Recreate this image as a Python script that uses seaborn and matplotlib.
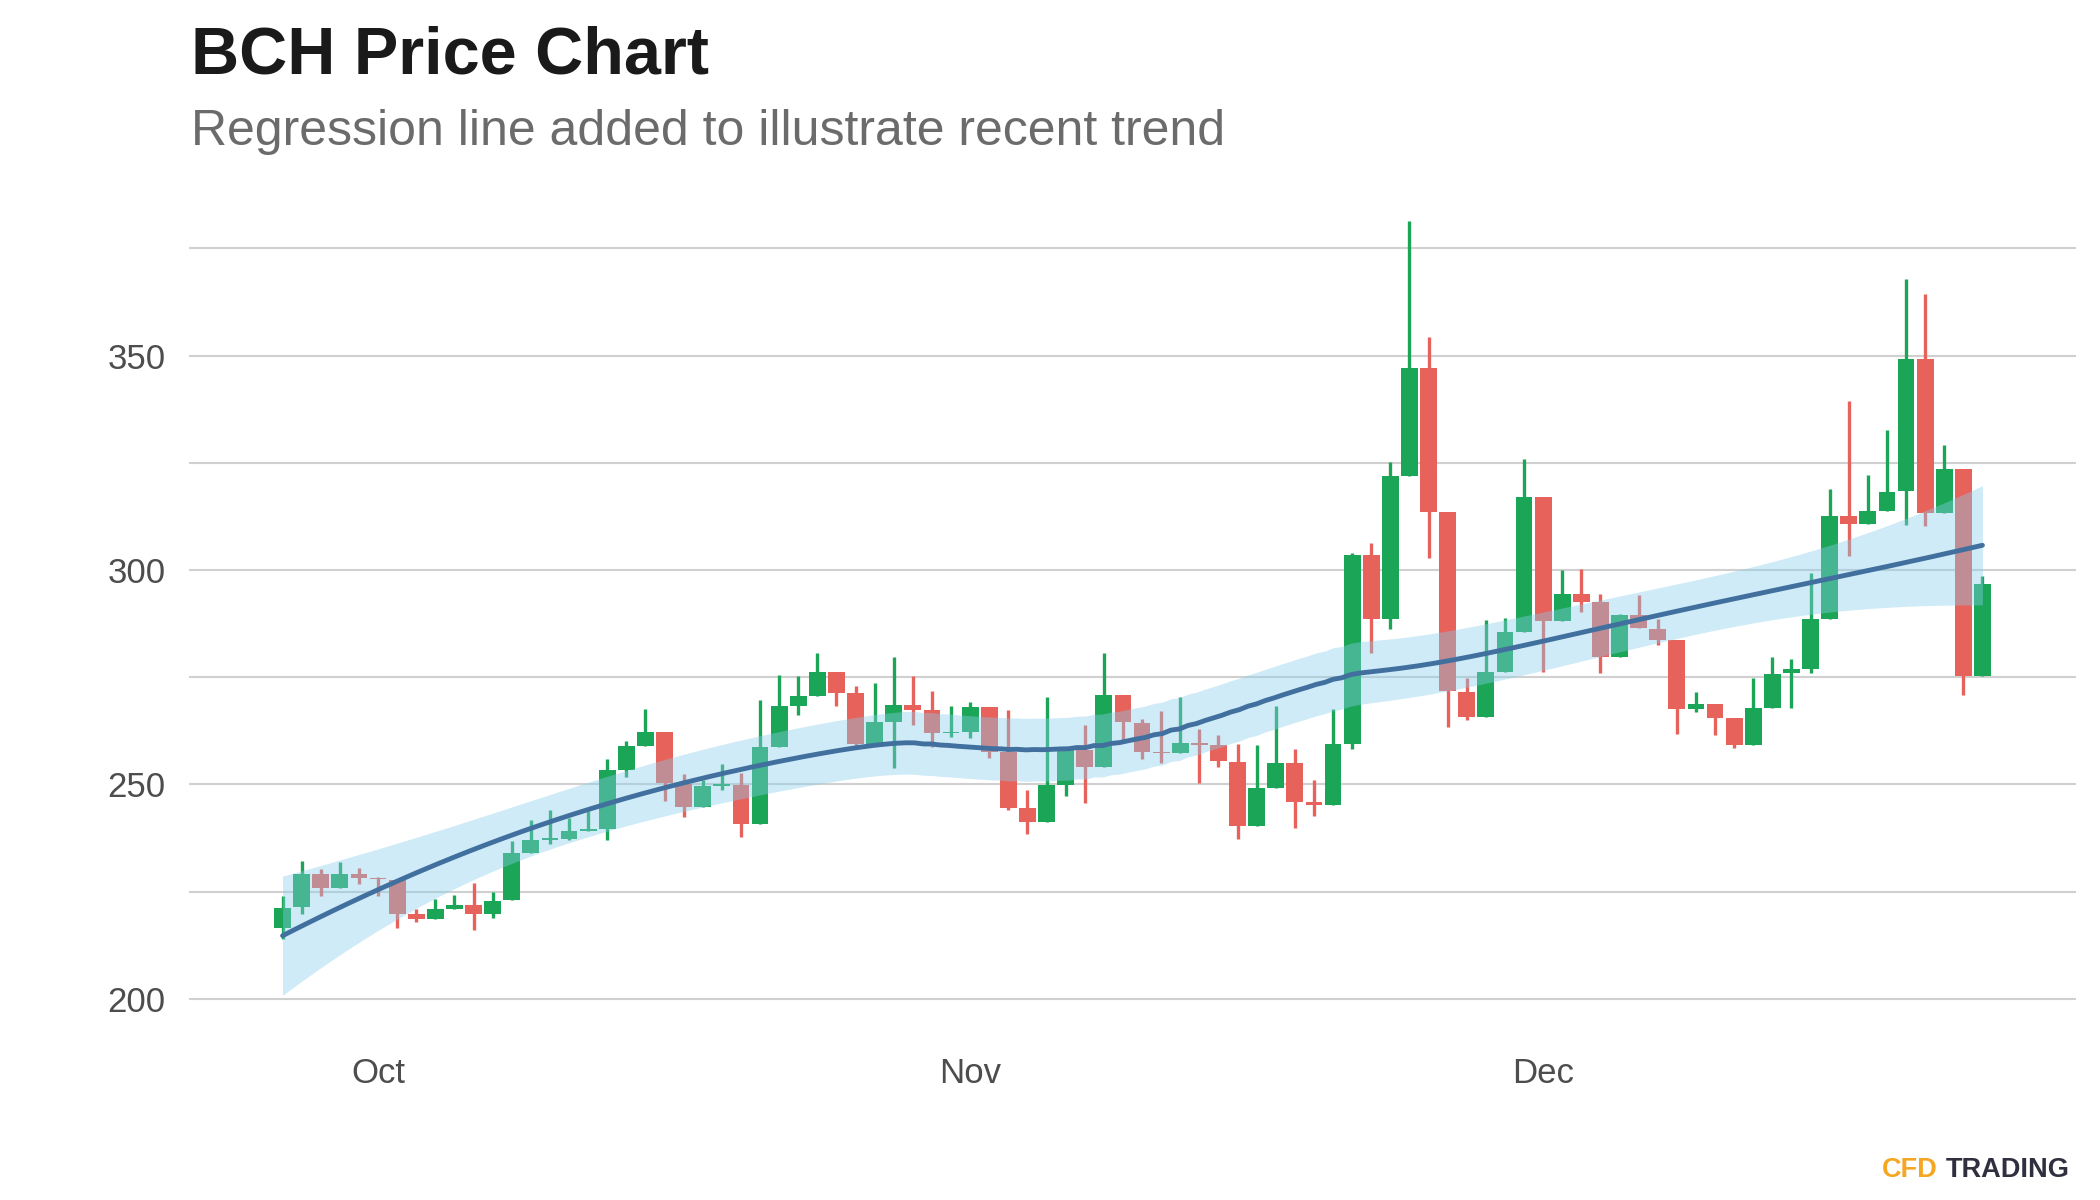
import numpy as np
import pandas as pd
import matplotlib
matplotlib.use("Agg")
import matplotlib.pyplot as plt
import seaborn as sns

# ---------------- data ----------------
dates = pd.date_range("2020-09-26", "2020-12-24", freq="D")

open_ = [216.6, 221.4, 229.2, 225.8, 229.0,
         228.2, 227.8, 219.7, 218.5, 220.9, 221.9, 219.8, 223.0, 234.0, 237.1,
         237.3, 239.1, 239.6, 253.3, 259.0, 262.2, 250.0, 244.8, 249.6, 249.8,
         240.7, 258.8, 268.3, 270.6, 276.1, 271.4, 259.4, 264.6, 268.5, 267.4, 261.9,
         262.1, 268.0, 257.5, 244.4, 241.3, 249.8, 258.1, 254.0, 270.9, 264.3,
         257.5, 257.4, 259.7, 259.1, 255.3, 240.3, 249.1, 254.9, 245.8, 245.2,
         259.3, 303.6, 288.5, 322.0, 347.1, 313.6, 271.6, 265.6, 276.1, 285.5,
         317.1, 288.1, 294.3, 292.5, 279.7, 289.4, 286.3, 283.6, 267.5, 268.7,
         265.5, 259.2, 267.8, 275.9, 277.0, 288.6, 312.6, 310.7, 313.7, 318.4,
         349.1, 313.3, 323.5, 275.2]
high = [224.0, 232.2, 230.3, 232.0, 230.5,
        228.4, 228.0, 221.0, 223.2, 224.2, 226.9, 224.9, 236.7, 241.6, 244.1,
        242.2, 243.7, 255.8, 260.0, 267.6, 262.3, 252.3, 251.0, 254.7, 252.7,
        269.7, 275.5, 275.3, 280.6, 276.1, 273.0, 273.6, 279.8, 275.2, 271.7, 268.3,
        269.1, 268.0, 267.4, 248.6, 270.4, 258.1, 263.9, 280.6, 270.9, 265.3,
        267.0, 270.4, 262.9, 261.6, 259.3, 259.1, 268.3, 258.3, 250.9, 267.6,
        304.0, 306.2, 325.2, 381.5, 354.4, 313.6, 274.7, 288.3, 288.8, 325.9,
        317.1, 300.1, 300.3, 294.5, 289.7, 294.1, 288.5, 283.6, 271.6, 268.7,
        265.5, 274.8, 279.7, 279.3, 299.4, 319.0, 339.5, 322.2, 332.6, 367.8,
        364.3, 329.2, 323.5, 298.6]
low = [214.0, 219.7, 223.9, 225.8, 226.8,
       224.0, 216.4, 218.0, 218.5, 220.9, 216.0, 218.9, 223.0, 234.0, 236.1,
       237.0, 239.1, 237.0, 251.6, 259.0, 246.0, 242.4, 244.8, 248.7, 237.8,
       240.7, 258.8, 266.2, 270.6, 268.3, 258.6, 259.4, 253.7, 263.9, 258.7, 261.1,
       260.8, 256.1, 244.0, 238.4, 241.3, 247.3, 245.7, 254.0, 260.4, 256.0,
       255.0, 257.4, 250.2, 254.0, 237.2, 240.3, 249.1, 239.8, 242.6, 245.2,
       258.3, 280.6, 286.3, 322.0, 302.8, 263.3, 265.1, 265.6, 276.1, 285.5,
       276.3, 288.1, 290.1, 275.9, 279.7, 286.5, 282.5, 261.7, 266.8, 261.5,
       258.5, 259.2, 267.8, 267.9, 276.0, 288.6, 303.3, 310.7, 313.7, 310.5,
       310.2, 313.3, 270.8, 275.2]
close = [221.2, 229.2, 225.8, 229.0, 228.1,
         227.9, 219.8, 218.5, 220.9, 221.9, 219.8, 222.9, 233.9, 237.1, 237.5,
         239.1, 239.7, 253.3, 259.0, 262.2, 250.2, 244.8, 249.5, 250.0, 240.7,
         258.8, 268.3, 270.6, 276.1, 271.4, 259.4, 264.6, 268.5, 267.4, 262.0, 262.1,
         268.0, 257.5, 244.5, 241.3, 249.8, 258.1, 254.0, 270.9, 264.5, 257.5,
         257.3, 259.7, 259.2, 255.4, 240.3, 249.1, 254.9, 245.9, 245.2, 259.3,
         303.6, 288.5, 322.0, 347.1, 313.6, 271.7, 265.6, 276.1, 285.5, 317.1,
         288.1, 294.4, 292.5, 279.7, 289.4, 286.5, 283.6, 267.5, 268.7, 265.5,
         259.2, 267.8, 275.7, 276.9, 288.6, 312.6, 310.7, 313.7, 318.1, 349.3,
         313.3, 323.5, 275.2, 296.7]

month_labels = ["Oct", "Nov", "Dec"]
y_major = [200, 250, 300, 350]
y_minor = [225, 275, 325, 375]

title = "BCH Price Chart"
subtitle = "Regression line added to illustrate recent trend"

# ---------------- styling ----------------
GREEN = "#1ba557"
RED = "#e8625c"
BAND = "skyblue"
LINE = "#41709f"

sns.set_theme(style="white")
plt.rcParams["font.family"] = ["Liberation Sans", "DejaVu Sans"]

df = pd.DataFrame({"date": dates, "open": open_, "high": high,
                   "low": low, "close": close})
df["x"] = (df["date"] - df["date"].iloc[0]).dt.days.astype(float)
df["up"] = df["close"] >= df["open"]

# ---------------- loess (span .75, degree 2) with standard-error band ----------------
def loess_matrix(x, xs, span=0.75):
    n = len(x)
    q = int(np.floor(n * span))
    L = np.zeros((len(xs), n))
    for i, x0 in enumerate(xs):
        d = np.abs(x - x0)
        h = np.sort(d)[q - 1]
        w = np.clip(1 - (d / h) ** 3, 0, None) ** 3
        X = np.column_stack([np.ones(n), x - x0, (x - x0) ** 2])
        XtW = X.T * w
        L[i] = np.linalg.solve(XtW @ X, XtW)[0]
    return L

xv = df["x"].to_numpy()
yv = df["close"].to_numpy()
L_data = loess_matrix(xv, xv)
resid = yv - L_data @ yv
IL = np.eye(len(xv)) - L_data
delta1 = np.trace(IL.T @ IL)
sigma = np.sqrt(np.sum(resid ** 2) / delta1)
xs = np.linspace(xv.min(), xv.max(), 200)
L_grid = loess_matrix(xv, xs)
fit = L_grid @ yv
se = sigma * np.sqrt(np.sum(L_grid ** 2, axis=1))
tq = 1.99
smooth = pd.DataFrame({"x": xs, "fit": fit, "lo": fit - tq * se, "hi": fit + tq * se})

# ---------------- figure ----------------
fig = plt.figure(figsize=(21, 12), dpi=100)
ax = fig.add_axes([189 / 2100, 1 - 1033 / 1200, (2076 - 189) / 2100, (1033 - 182) / 1200])

colors = np.where(df["up"], GREEN, RED)
ax.vlines(df["x"], df["low"], df["high"], color=colors, linewidth=2.4, zorder=2)
body_lo = np.minimum(df["open"], df["close"])
body_h = np.maximum(np.abs(df["close"] - df["open"]), 0.3)
ax.bar(df["x"], body_h, bottom=body_lo, width=0.88, color=colors, linewidth=0, zorder=3)

ax.fill_between(smooth["x"], smooth["lo"], smooth["hi"], color=BAND, alpha=0.4,
                linewidth=0, zorder=4)
sns.lineplot(data=smooth, x="x", y="fit", ax=ax, color=LINE, linewidth=3.5, zorder=5)

# axes
ax.set_xlim(-4.9, 93.9)
ax.set_ylim(192, 390.5)
month_starts = [d for d in dates if d.day == 1]
ax.set_xticks([(d - dates[0]).days for d in month_starts])
ax.set_xticklabels(month_labels)
ax.set_yticks(y_major)
ax.set_yticklabels([str(v) for v in y_major])
ax.set_yticks(y_minor, minor=True)
ax.set_xlabel("")
ax.set_ylabel("")
ax.tick_params(axis="both", which="both", length=0, labelsize=25, labelcolor="#4d4d4d")
ax.tick_params(axis="x", pad=17)
ax.tick_params(axis="y", pad=17)
ax.grid(False)
ax.grid(axis="y", which="both", color="#d0d0d0", linewidth=1.5)
ax.set_axisbelow(True)
for s in ax.spines.values():
    s.set_visible(False)

fig.text(191 / 2100, 1 - 74 / 1200, title, fontsize=48, fontweight="bold",
         color="#1a1a1a", va="baseline", ha="left")
fig.text(191 / 2100, 1 - 145 / 1200, subtitle, fontsize=36,
         color="#6b6b6b", va="baseline", ha="left")

fig.text(1938 / 2100, 1 - 1177 / 1200, "CFD", fontsize=19.5, fontweight="bold",
         color="#f5a623", va="baseline", ha="right")
fig.text(2070 / 2100, 1 - 1177 / 1200, "TRADING", fontsize=19.5, fontweight="bold",
         color="#2f2f3f", va="baseline", ha="right")

fig.savefig("out.png", dpi=100)
